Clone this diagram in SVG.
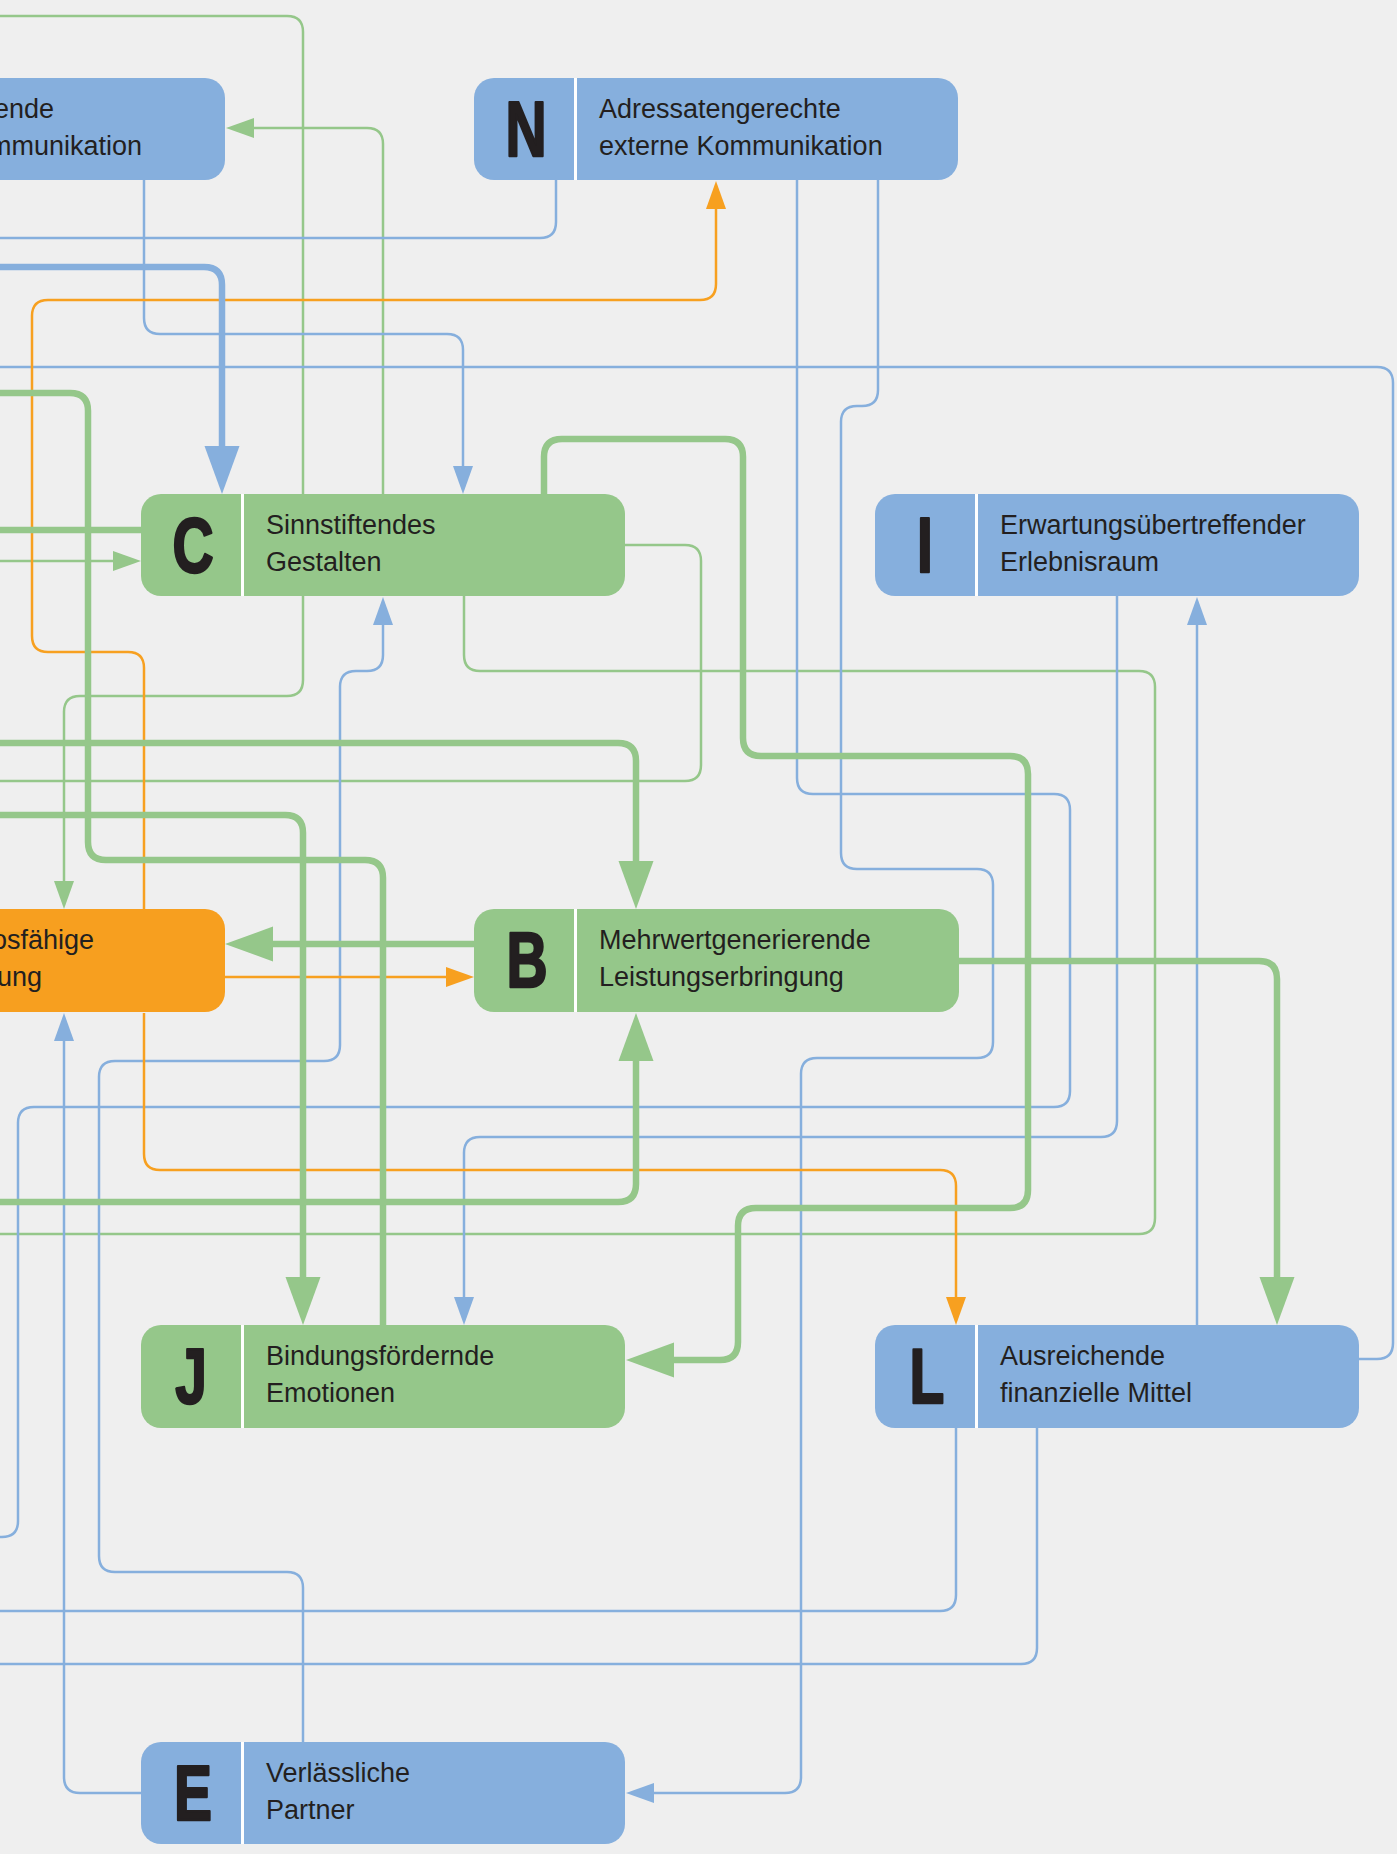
<svg xmlns="http://www.w3.org/2000/svg" width="1397" height="1854" viewBox="0 0 1397 1854">
  <style>
    .c { fill: none; stroke-linecap: butt; stroke-linejoin: round; }
    .t { stroke-width: 2.5; }
    .k { stroke-width: 6.5; }
    .b { stroke: #86afdd; }
    .g { stroke: #95c78a; }
    .o { stroke: #f7a020; }
    .nb { fill: #86afdd; }
    .ng { fill: #95c78a; }
    .no { fill: #f79f1f; }
    .div { fill: #ffffff; }
    .lbl { font-family: "Liberation Sans", Arial, sans-serif; font-size: 27px; fill: #231f20; }
    .let { font-family: "Liberation Sans", Arial, sans-serif; font-weight: bold; font-size: 77px; fill: #231f20; stroke: #231f20; stroke-width: 2.5; stroke-linejoin: round; text-anchor: middle; }
  </style>
  <defs>
    <marker id="ab" markerUnits="userSpaceOnUse" markerWidth="30" markerHeight="22" viewBox="0 -11 30 22" refX="0" refY="0" orient="auto" overflow="visible">
      <path d="M0 -10 L28 0 L0 10 Z" fill="#86afdd"/>
    </marker>
    <marker id="ag" markerUnits="userSpaceOnUse" markerWidth="30" markerHeight="22" viewBox="0 -11 30 22" refX="0" refY="0" orient="auto" overflow="visible">
      <path d="M0 -10 L28 0 L0 10 Z" fill="#95c78a"/>
    </marker>
    <marker id="ao" markerUnits="userSpaceOnUse" markerWidth="30" markerHeight="22" viewBox="0 -11 30 22" refX="0" refY="0" orient="auto" overflow="visible">
      <path d="M0 -10 L28 0 L0 10 Z" fill="#f7a020"/>
    </marker>
    <marker id="abk" markerUnits="userSpaceOnUse" markerWidth="50" markerHeight="36" viewBox="0 -18 50 36" refX="0" refY="0" orient="auto" overflow="visible">
      <path d="M0 -17.5 L48 0 L0 17.5 Z" fill="#86afdd"/>
    </marker>
    <marker id="agk" markerUnits="userSpaceOnUse" markerWidth="50" markerHeight="36" viewBox="0 -18 50 36" refX="0" refY="0" orient="auto" overflow="visible">
      <path d="M0 -17.5 L48 0 L0 17.5 Z" fill="#95c78a"/>
    </marker>
  </defs>

  <rect x="0" y="0" width="1397" height="1854" fill="#efefef"/>

  <g id="connectors">
    <!-- thin green -->
    <path class="c t g" d="M0 16 H287 Q303 16 303 32 V680 Q303 696 287 696 H80 Q64 696 64 712 V881" marker-end="url(#ag)"/>
    <path class="c t g" d="M383 494 V144 Q383 128 367 128 H254" marker-end="url(#ag)"/>
    <path class="c t g" d="M0 561 H113" marker-end="url(#ag)"/>
    <path class="c t g" d="M625 545 H685 Q701 545 701 561 V765 Q701 781 685 781 H0"/>
    <path class="c t g" d="M464 596 V655 Q464 671 480 671 H1139 Q1155 671 1155 687 V1218 Q1155 1234 1139 1234 H0"/>

    <!-- thin blue -->
    <path class="c t b" d="M144 180 V318 Q144 334 160 334 H447 Q463 334 463 350 V466" marker-end="url(#ab)"/>
    <path class="c t b" d="M556 180 V222 Q556 238 540 238 H0"/>
    <path class="c t b" d="M1359 1359 H1377 Q1393 1359 1393 1343 V383 Q1393 367 1377 367 H0"/>
    <path class="c t b" d="M141 1793 H80 Q64 1793 64 1777 V1041" marker-end="url(#ab)"/>
    <path class="c t b" d="M797 180 V778 Q797 794 813 794 H1054 Q1070 794 1070 810 V1091 Q1070 1107 1054 1107 H34 Q18 1107 18 1123 V1521 Q18 1537 2 1537 H0"/>
    <path class="c t b" d="M878 180 V390 Q878 406 862 406 H857 Q841 406 841 422 V853 Q841 869 857 869 H977 Q993 869 993 885 V1042 Q993 1058 977 1058 H817 Q801 1058 801 1074 V1777 Q801 1793 785 1793 H654" marker-end="url(#ab)"/>
    <path class="c t b" d="M1117 596 V1121 Q1117 1137 1101 1137 H480 Q464 1137 464 1153 V1297" marker-end="url(#ab)"/>
    <path class="c t b" d="M1197 1325 V625" marker-end="url(#ab)"/>
    <path class="c t b" d="M956 1428 V1595 Q956 1611 940 1611 H0"/>
    <path class="c t b" d="M1037 1428 V1648 Q1037 1664 1021 1664 H0"/>
    <path class="c t b" d="M303 1742 V1588 Q303 1572 287 1572 H115 Q99 1572 99 1556 V1077 Q99 1061 115 1061 H324 Q340 1061 340 1045 V687 Q340 671 356 671 H367 Q383 671 383 655 V625" marker-end="url(#ab)"/>

    <!-- thin orange -->
    <path class="c t o" d="M144 909 V668 Q144 652 128 652 H48 Q32 652 32 636 V316 Q32 300 48 300 H700 Q716 300 716 284 V209" marker-end="url(#ao)"/>
    <path class="c t o" d="M225 977 H446" marker-end="url(#ao)"/>
    <path class="c t o" d="M144 1013 V1154 Q144 1170 160 1170 H940 Q956 1170 956 1186 V1297" marker-end="url(#ao)"/>

    <!-- thick blue -->
    <path class="c k b" d="M0 267 H204 Q222 267 222 285 V446" marker-end="url(#abk)"/>

    <!-- thick green -->
    <path class="c k g" d="M0 393 H70 Q88 393 88 411 V842 Q88 860 106 860 H365 Q383 860 383 878 V1325"/>
    <path class="c k g" d="M0 530 H141"/>
    <path class="c k g" d="M544 494 V457 Q544 439 562 439 H725 Q743 439 743 457 V738 Q743 756 761 756 H1010 Q1028 756 1028 774 V1190 Q1028 1208 1010 1208 H756 Q738 1208 738 1226 V1342 Q738 1360 720 1360 H674" marker-end="url(#agk)"/>
    <path class="c k g" d="M0 743 H618 Q636 743 636 761 V861" marker-end="url(#agk)"/>
    <path class="c k g" d="M0 815 H285 Q303 815 303 833 V1277" marker-end="url(#agk)"/>
    <path class="c k g" d="M474 944 H273" marker-end="url(#agk)"/>
    <path class="c k g" d="M959 961 H1259 Q1277 961 1277 979 V1277" marker-end="url(#agk)"/>
    <path class="c k g" d="M0 1202 H618 Q636 1202 636 1184 V1061" marker-end="url(#agk)"/>
  </g>

  <!-- partly visible node, upper left -->
  <g id="node-K">
    <rect class="nb" x="-259" y="78" width="484" height="102" rx="20"/>
    <text class="lbl" x="54" y="118" text-anchor="end">ende</text>
    <text class="lbl" x="142" y="155" text-anchor="end">mmunikation</text>
  </g>

  <g id="node-N">
    <rect class="nb" x="474" y="78" width="484" height="102" rx="20"/>
    <rect class="div" x="574" y="78" width="3" height="102"/>
    <text class="let" transform="translate(526 156) scale(0.74 1)">N</text>
    <text class="lbl" x="599" y="118">Adressatengerechte</text>
    <text class="lbl" x="599" y="155">externe Kommunikation</text>
  </g>

  <g id="node-C">
    <rect class="ng" x="141" y="494" width="484" height="102" rx="20"/>
    <rect class="div" x="241" y="494" width="3" height="102"/>
    <text class="let" transform="translate(193 572) scale(0.74 1)">C</text>
    <text class="lbl" x="266" y="534">Sinnstiftendes</text>
    <text class="lbl" x="266" y="571">Gestalten</text>
  </g>

  <g id="node-I">
    <rect class="nb" x="875" y="494" width="484" height="102" rx="20"/>
    <rect class="div" x="975" y="494" width="3" height="102"/>
    <text class="let" transform="translate(925 572) scale(0.74 1)">I</text>
    <text class="lbl" x="1000" y="534">Erwartungsübertreffender</text>
    <text class="lbl" x="1000" y="571">Erlebnisraum</text>
  </g>

  <!-- partly visible node, middle left -->
  <g id="node-W">
    <rect class="no" x="-259" y="909" width="484" height="103" rx="20"/>
    <text class="lbl" x="94" y="949" text-anchor="end">osfähige</text>
    <text class="lbl" x="42" y="986" text-anchor="end">ung</text>
  </g>

  <g id="node-B">
    <rect class="ng" x="474" y="909" width="485" height="103" rx="20"/>
    <rect class="div" x="574" y="909" width="3" height="103"/>
    <text class="let" transform="translate(527 987) scale(0.74 1)">B</text>
    <text class="lbl" x="599" y="949">Mehrwertgenerierende</text>
    <text class="lbl" x="599" y="986">Leistungserbringung</text>
  </g>

  <g id="node-J">
    <rect class="ng" x="141" y="1325" width="484" height="103" rx="20"/>
    <rect class="div" x="241" y="1325" width="3" height="103"/>
    <text class="let" transform="translate(191 1403) scale(0.74 1)">J</text>
    <text class="lbl" x="266" y="1365">Bindungsfördernde</text>
    <text class="lbl" x="266" y="1402">Emotionen</text>
  </g>

  <g id="node-L">
    <rect class="nb" x="875" y="1325" width="484" height="103" rx="20"/>
    <rect class="div" x="975" y="1325" width="3" height="103"/>
    <text class="let" transform="translate(927 1403) scale(0.74 1)">L</text>
    <text class="lbl" x="1000" y="1365">Ausreichende</text>
    <text class="lbl" x="1000" y="1402">finanzielle Mittel</text>
  </g>

  <g id="node-E">
    <rect class="nb" x="141" y="1742" width="484" height="102" rx="20"/>
    <rect class="div" x="241" y="1742" width="3" height="102"/>
    <text class="let" transform="translate(193 1820) scale(0.74 1)">E</text>
    <text class="lbl" x="266" y="1782">Verlässliche</text>
    <text class="lbl" x="266" y="1819">Partner</text>
  </g>
</svg>
